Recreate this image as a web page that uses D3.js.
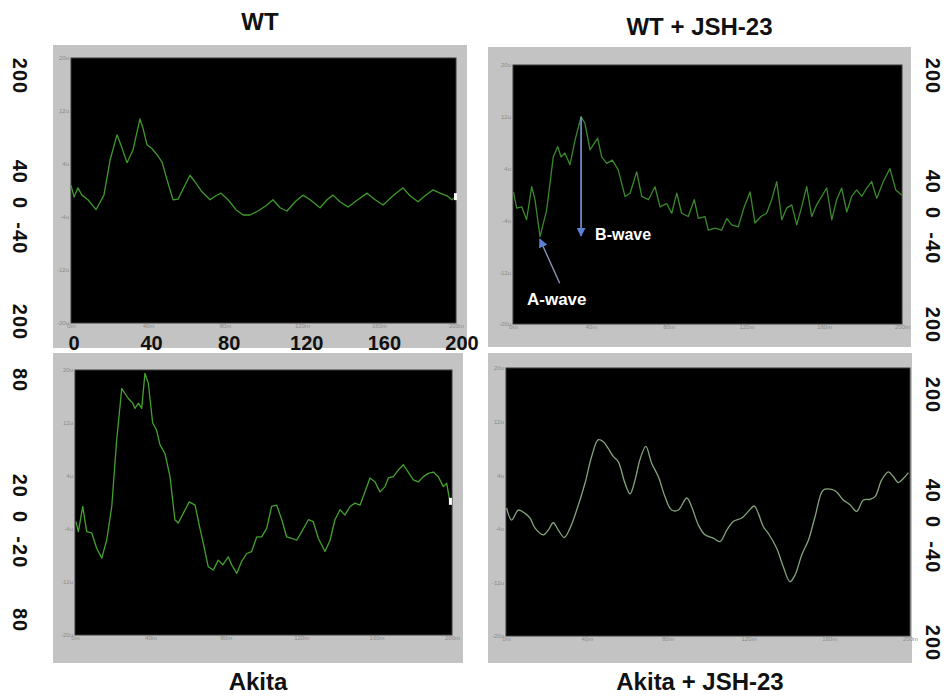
<!DOCTYPE html>
<html>
<head>
<meta charset="utf-8">
<script src="https://cdn.jsdelivr.net/npm/d3@7"></script>
<style>
  html, body { margin: 0; padding: 0; background: #fff; }
  svg { display: block; }
  text { font-family: "Liberation Sans", Arial, sans-serif; }
</style>
</head>
<body>
<svg id="chart" width="951" height="698"></svg>
<script>
'use strict';

// ── Data (time in ms, amplitude in µV) ─────────────────────────────────────
const TITLES = ['WT', 'WT + JSH-23', 'Akita', 'Akita + JSH-23'];

const wtTime = [0, 1.6, 3.6, 5.7, 8.8, 13, 17.1, 20.3, 23.9, 26.5, 29.1, 32.2, 35.8, 37.4, 39.5, 42.1, 44.7, 47.3, 49.9, 53, 55.6, 59.2, 61.8, 64.9, 68, 72.2, 75.3, 77.9, 81.6, 85.7, 89.4, 93, 97.1, 101.3, 104.9, 108.6, 112.2, 116.4, 120.5, 124.2, 129.4, 133, 136.1, 139.7, 143.9, 148.1, 153.8, 158, 162.1, 167.3, 172.5, 176.1, 180.3, 183.9, 188.1, 191.7, 195.3, 197.9, 199.5];
const wtAmp  = [0.8, -1.0, 0.4, -0.7, -1.4, -2.9, -0.7, 4.6, 8.4, 6.4, 4.2, 6.1, 10.8, 9.4, 6.9, 6.3, 5.4, 4.3, 1.6, -1.4, -1.3, 0.8, 2.3, 1.1, -0.2, -1.4, -0.8, -0.4, -1.4, -2.9, -3.7, -3.7, -3.1, -2.3, -1.4, -2.6, -3.1, -1.7, -0.7, -1.4, -2.6, -1.4, -0.7, -1.7, -2.5, -1.6, -0.4, -1.4, -2.2, -0.8, 0.4, -0.8, -1.7, -0.8, 0.1, -0.4, -0.8, -1.4, -1.0];

const wtJshTime = [0.2, 1.9, 4.5, 7, 9.6, 11.3, 13.9, 17.3, 20.7, 23, 24.7, 26.7, 29.3, 31.9, 35, 37, 39.6, 43.5, 45.6, 48.2, 51.1, 54.1, 57.6, 60.2, 63.6, 66.2, 69.6, 73, 75.6, 79, 81.6, 84.2, 86.7, 90.1, 93.2, 95.3, 98.7, 100.4, 103.9, 107.3, 109.9, 112.4, 115.8, 118.9, 121.9, 124.4, 127.5, 130.4, 133, 135.6, 138.2, 140.7, 143.3, 145.9, 148.4, 151, 153.6, 156.1, 158.7, 161.3, 163.9, 166.4, 169, 171.6, 174.1, 176.7, 179.3, 181.9, 184.4, 187, 190.4, 193.8, 196.8, 200];
const wtJshAmp  = [0.4, -2.1, -1.9, -3.9, 1.2, -0.8, -6.5, -2.4, 5.8, 7.4, 5.8, 6.4, 4.6, 8.4, 12.0, 11.0, 6.9, 8.7, 5.8, 4.8, 5.3, 3.8, -0.3, 0.2, 3.5, -0.3, -0.8, 1.2, -1.9, -1.4, -2.9, 0.2, -2.9, -3.4, -0.8, -3.7, -3.4, -5.5, -5.2, -5.5, -3.7, -4.7, -5.0, -1.9, 0.4, -4.4, -3.4, -2.9, -0.8, 2.0, -3.9, -2.1, -1.6, -4.7, -1.9, 1.2, -3.4, -1.6, -0.3, 1.0, -3.9, -0.8, 1.0, -2.7, -0.3, 0.7, -0.3, 1.0, 2.0, -0.6, 2.0, 4.0, 0.7, -0.1];

const akitaTime = [0.5, 1.8, 4.1, 6.2, 8.9, 11.5, 14.2, 16.8, 19.5, 22.1, 24.8, 28.3, 30.6, 31.8, 33.6, 35.4, 37.1, 38.9, 41.2, 43.3, 45.1, 47.7, 50.4, 53, 54.8, 57.5, 60.6, 63.7, 65.9, 68.1, 70.7, 73.4, 76, 78.4, 81.3, 83.1, 85.8, 88.4, 91.1, 93.7, 96.4, 99, 101.7, 104.3, 107, 109.7, 112.3, 115, 117.6, 120.3, 123.8, 126.4, 129.1, 132.6, 135.3, 137.9, 140.6, 143.2, 145.9, 148.5, 151.2, 153.8, 156.5, 159.2, 161.8, 164.5, 166.2, 168.9, 171.5, 174.2, 176.8, 179.5, 182.1, 184.8, 187.4, 190.1, 192.7, 195.4, 197.2, 198.9];
const akitaAmp  = [-2.9, -4.4, -0.6, -4.4, -4.6, -6.9, -8.4, -5.7, -0.6, 9.4, 17.2, 15.7, 15.0, 14.2, 15.0, 14.2, 19.5, 18.0, 12.0, 10.9, 8.7, 7.4, 3.9, -2.6, -3.1, -1.6, 0.1, -0.4, -3.4, -6.2, -9.7, -10.2, -8.7, -9.4, -8.2, -9.4, -10.7, -8.9, -7.7, -7.4, -5.2, -5.2, -3.9, -0.6, -0.4, -2.6, -5.2, -5.4, -5.7, -4.4, -2.6, -2.9, -5.4, -7.4, -5.7, -2.6, -1.1, -1.9, -0.6, -0.1, -0.4, 1.6, 3.7, 3.1, 1.6, 2.4, 3.7, 3.9, 4.9, 5.7, 4.6, 3.4, 3.1, 3.9, 4.4, 4.6, 3.9, 2.4, 2.9, 0.1];

const akitaJshTime = [0.3, 2.8, 6.1, 9.4, 11.9, 14.4, 18.5, 20.9, 23.4, 25.9, 28.9, 31.7, 35, 39.1, 42.4, 45.7, 48.2, 50.6, 53.1, 55.6, 58.9, 61.4, 63.9, 66.3, 69.2, 72.1, 75.4, 78.7, 82, 85.3, 89.5, 91.9, 95.2, 98.5, 102.6, 105.9, 109.3, 112.5, 116.7, 120, 122.9, 124.9, 127.4, 129.9, 134, 137.3, 140.6, 143.1, 146.4, 149.7, 153, 157.1, 161.2, 163.7, 167, 170.3, 173.6, 176.9, 180.2, 182.7, 186, 189.3, 191.7, 194.2, 196.7, 199.2];
const akitaJshAmp  = [-0.9, -2.7, -1.2, -1.7, -2.4, -3.9, -4.9, -4.2, -3.1, -4.2, -5.3, -3.9, -1.2, 2.8, 6.8, 9.3, 9.0, 8.0, 6.8, 6.0, 2.8, 1.2, 3.3, 6.3, 8.3, 5.8, 3.8, 0.8, -1.2, -1.2, 0.6, -0.7, -3.4, -4.9, -5.4, -5.9, -4.2, -2.9, -2.4, -1.4, -0.6, -1.7, -3.7, -4.7, -6.9, -9.7, -11.9, -10.9, -7.9, -5.7, -2.2, 1.8, 1.9, 1.5, 0.3, -0.4, -1.4, 0.3, 0.4, 0.8, 3.3, 4.5, 3.8, 2.9, 3.5, 4.4];

// recorder's own tick labels (tiny grey) and the big overlaid labels
const yTickVals   = [20, 12, 4, -4, -12, -20];
const yTickLabels = ['20u', '12u', '4u', '-4u', '-12u', '-20u'];
const xTickVals   = [0, 40, 80, 120, 160, 200];
const xTickLabels = ['0m', '40m', '80m', '120m', '160m', '200m'];
const timeLabels  = ['0', '40', '80', '120', '160', '200'];
const GAP = '\u00a0\u00a0';
const leftLabels  = ['200', `40${GAP}0${GAP}-40`, '200', '80', `20${GAP}0${GAP}-20`, '80'];
const rightLabels = ['200', `40${GAP}0${GAP}-40`, '200', '200', `40${GAP}0${GAP}-40`, '200'];

// ── Layout ─────────────────────────────────────────────────────────────────
const panels = [
  { title: TITLES[0], time: wtTime,       amp: wtAmp,       frame: [53, 45, 467, 348],  plot: [71, 58, 456, 323],  titleY: 30,  color: '#3f9a2d', curve: d3.curveLinear,   marker: true },
  { title: TITLES[1], time: wtJshTime,    amp: wtJshAmp,    frame: [488, 47, 911, 347], plot: [513, 65, 902, 324], titleY: 35,  color: '#3a8a2c', curve: d3.curveLinear,   marker: false },
  { title: TITLES[2], time: akitaTime,    amp: akitaAmp,    frame: [53, 353, 463, 663], plot: [75, 370, 452, 635], titleY: 690, color: '#44a12f', curve: d3.curveLinear,   marker: true },
  { title: TITLES[3], time: akitaJshTime, amp: akitaJshAmp, frame: [488, 353, 912, 663], plot: [506, 368, 910, 636], titleY: 690, color: '#86a47c', curve: d3.curveCatmullRom, marker: false },
];

const svg = d3.select('#chart');

panels.forEach((p, i) => {
  const [fx0, fy0, fx1, fy1] = p.frame;
  const [px0, py0, px1, py1] = p.plot;

  svg.append('rect')
    .attr('x', fx0).attr('y', fy0)
    .attr('width', fx1 - fx0).attr('height', fy1 - fy0)
    .attr('fill', '#c3c3c3');

  svg.append('rect')
    .attr('x', px0).attr('y', py0)
    .attr('width', px1 - px0).attr('height', py1 - py0)
    .attr('fill', '#000')
    .attr('stroke', '#3a3a3a').attr('stroke-width', 1);

  const x = d3.scaleLinear().domain([0, 200]).range([px0, px1]);
  const y = d3.scaleLinear().domain([-20, 20]).range([py1, py0]);
  p.x = x; p.y = y;

  // tiny grey ticks of the recorder software
  const ya = svg.append('g').attr('transform', `translate(${px0},0)`)
    .call(d3.axisLeft(y).tickValues(yTickVals).tickSize(0).tickPadding(2)
      .tickFormat((d, k) => yTickLabels[k]));
  ya.select('.domain').remove();
  ya.selectAll('text').attr('font-size', '6px').attr('fill', '#8a8a8a')
    .attr('font-family', '"Liberation Sans", Arial, sans-serif');

  const xa = svg.append('g').attr('transform', `translate(0,${py1})`)
    .call(d3.axisBottom(x).tickValues(xTickVals).tickSize(0).tickPadding(1)
      .tickFormat((d, k) => xTickLabels[k]));
  xa.select('.domain').remove();
  xa.selectAll('text').attr('font-size', '6px').attr('fill', '#8a8a8a')
    .attr('font-family', '"Liberation Sans", Arial, sans-serif');

  const pts = p.time.map((t, k) => [t, p.amp[k]]);
  const line = d3.line().x(d => x(d[0])).y(d => y(d[1])).curve(p.curve);

  svg.append('path')
    .datum(pts)
    .attr('d', line)
    .attr('fill', 'none')
    .attr('stroke', p.color)
    .attr('stroke-width', 1.3)
    .attr('stroke-linejoin', 'round');

  if (p.marker) {
    const last = pts[pts.length - 1];
    svg.append('rect')
      .attr('x', x(last[0]) - 1).attr('y', y(last[1]) - 4)
      .attr('width', 3).attr('height', 7)
      .attr('fill', '#fff');
  }

  svg.append('text')
    .attr('x', (fx0 + fx1) / 2).attr('y', p.titleY)
    .attr('text-anchor', 'middle')
    .attr('font-size', '24px').attr('font-weight', '700')
    .attr('fill', '#111')
    .text(p.title);
});

// ── Big time labels under the WT panel ─────────────────────────────────────
const labelX = d3.scaleLinear().domain([0, 200]).range([74, 462]);
svg.append('g')
  .selectAll('text')
  .data(xTickVals)
  .join('text')
  .attr('x', d => labelX(d))
  .attr('y', 350)
  .attr('text-anchor', 'middle')
  .attr('font-size', '20px').attr('font-weight', '700')
  .attr('fill', '#111')
  .text((d, k) => timeLabels[k]);

// ── Rotated amplitude labels at both sides ────────────────────────────────
const leftY  = [76, 207, 322, 380, 521, 620];
const rightY = [76, 217, 325, 395, 526, 643];

function sideLabels(labels, xs, ys) {
  svg.append('g')
    .selectAll('text')
    .data(labels)
    .join('text')
    .attr('transform', (d, k) => `translate(${xs},${ys[k]}) rotate(90)`)
    .attr('text-anchor', 'middle')
    .attr('dominant-baseline', 'central')
    .attr('font-size', '20px').attr('font-weight', '700')
    .attr('letter-spacing', '1px')
    .attr('fill', '#111')
    .text(d => d);
}
sideLabels(leftLabels, 20, leftY);
sideLabels(rightLabels, 933, rightY);

// ── A-wave / B-wave annotations on WT + JSH-23 ─────────────────────────────
const px = panels[1].x, py = panels[1].y;
const defs = svg.append('defs');
defs.append('marker')
  .attr('id', 'head')
  .attr('viewBox', '0 0 10 10')
  .attr('refX', 9).attr('refY', 5)
  .attr('markerWidth', 9).attr('markerHeight', 9)
  .attr('markerUnits', 'userSpaceOnUse')
  .attr('orient', 'auto')
  .append('path')
  .attr('d', 'M0,0 L10,5 L0,10 Z')
  .attr('fill', '#5b80d8');

svg.append('line')
  .attr('x1', px(35)).attr('y1', py(12))
  .attr('x2', px(35)).attr('y2', py(-6.4))
  .attr('stroke', '#7d97dc').attr('stroke-width', 1.6)
  .attr('marker-end', 'url(#head)');

svg.append('line')
  .attr('x1', px(24)).attr('y1', py(-13.7))
  .attr('x2', px(13.8)).attr('y2', py(-6.9))
  .attr('stroke', '#8d93b4').attr('stroke-width', 1.4)
  .attr('marker-end', 'url(#head)');

svg.append('text')
  .attr('x', px(42.2)).attr('y', py(-7.1))
  .attr('font-size', '16px').attr('font-weight', '700')
  .attr('fill', '#fff')
  .text('B-wave');

svg.append('text')
  .attr('x', px(7.2)).attr('y', py(-17.1))
  .attr('font-size', '17px').attr('font-weight', '700')
  .attr('fill', '#fff')
  .text('A-wave');
</script>
</body>
</html>
